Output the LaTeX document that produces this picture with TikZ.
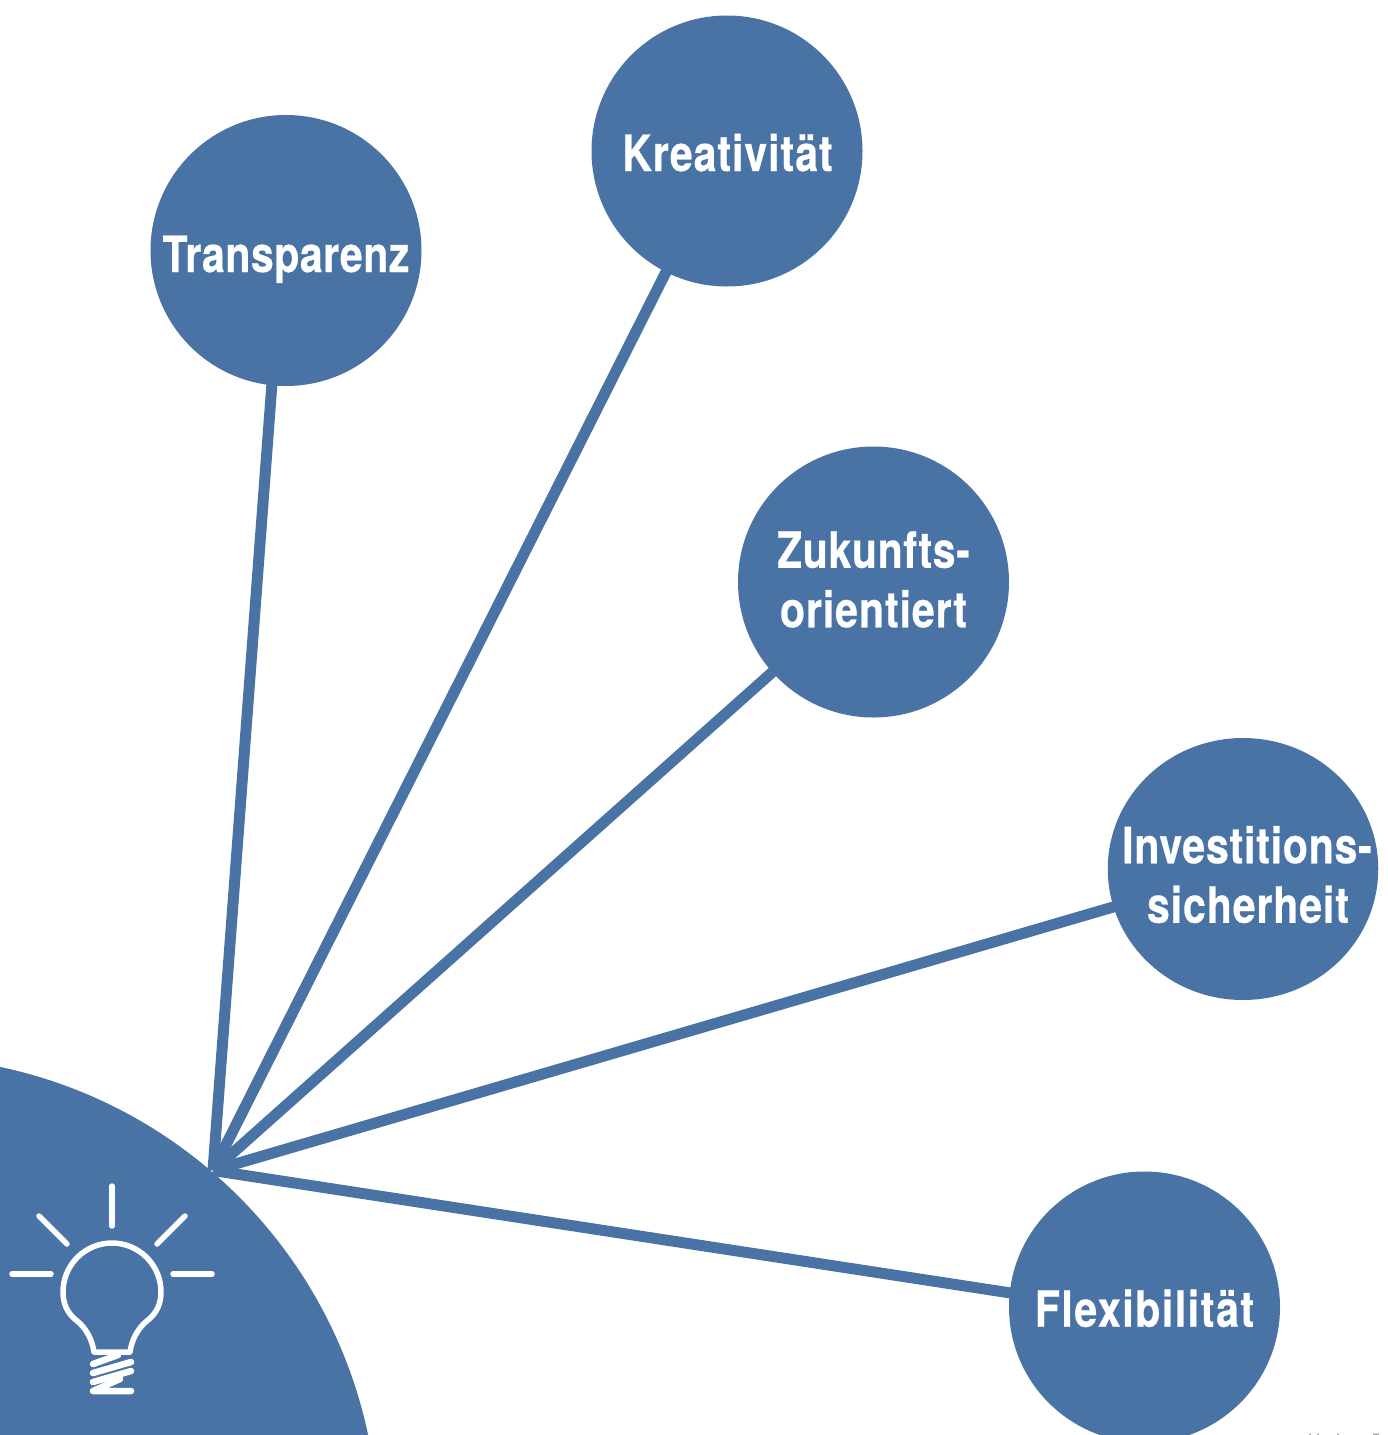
\documentclass[tikz,border=0pt]{standalone}
\usepackage{fontspec}
\usetikzlibrary{shapes.geometric}
\setmainfont{TeX Gyre Heros}[FakeStretch=0.82,LetterSpace=1.6,FakeBold=0.5]
\definecolor{bl}{HTML}{4A73A5}
% #1 horizontal offset (doubled kern), #2 drop of the baseline, #3 letter spacing, #4 text
\newcommand{\lbl}[4]{\makebox[0pt]{\addfontfeatures{LetterSpace=#3}\kern#1pt\raisebox{-#2pt}[0pt][0pt]{#4}}}
\tikzset{
 bub/.style={circle,fill=bl,minimum size=271pt,inner sep=0pt,align=center,text=white,font=\fontsize{50}{59.5}\selectfont\bfseries},
 conn/.style={draw=bl,line width=11pt,shorten >=-3pt},
 wl/.style={draw=white,line width=5.5pt,line cap=round,line join=round},
 ws/.style={wl,line width=6.5pt}
}
\begin{document}
\begin{tikzpicture}[x=1pt,y=-1pt]
\useasboundingbox (0,0) rectangle (1387,1435);
\begin{scope}
\clip (0,0) rectangle (1387,1435);
\fill[bl] (-99,1534) circle (477.4);
\end{scope}
\node[bub] (t) at (286,250.5) {\lbl{0}{21.5}{1.1}{Transparenz}};
\node[bub] (k) at (727,151) {\lbl{1}{20}{1.9}{Kreativität}};
\node[bub] (z) at (873.5,582) {\lbl{0}{15.5}{1.3}{Zukunfts-}\\\lbl{0}{15.5}{1.9}{orientiert}};
\node[bub,ellipse,minimum width=270.5pt,minimum height=262pt] (i) at (1243,869) {\lbl{8}{24}{1.6}{Investitions-}\\\lbl{10}{24}{1.9}{sicherheit}};
\node[bub] (f) at (1144.5,1307) {\lbl{0}{19.7}{3.1}{Flexibilität}};
\coordinate (hub) at (213,1170.5);
\draw[conn] (hub) -- (t.264.3);
\draw[conn] (hub) -- (k);
\draw[conn] (hub) -- (z);
\draw[conn] (hub) -- (i);
\draw[conn] (hub) -- (f.174.3);
% bulb
\draw[wl] (112,1186) -- (112,1226);
\draw[wl] (39,1216) -- (67,1244);
\draw[wl] (185,1216) -- (157,1244);
\draw[wl] (12,1274) -- (51,1274);
\draw[wl] (173,1274) -- (212,1274);
\draw[wl] (94,1352) .. controls (92,1338) and (85,1327) .. (76,1320)
  .. controls (67,1313) and (63,1303) .. (63,1292)
  .. controls (63,1265) and (85,1243) .. (112,1243)
  .. controls (139,1243) and (161,1265) .. (161,1292)
  .. controls (161,1303) and (157,1313) .. (148,1320)
  .. controls (139,1327) and (132,1338) .. (130,1352) -- cycle;
\draw[ws] (93,1364) -- (118,1355);
\draw[ws] (93,1373) -- (131,1362);
\draw[ws] (93,1382) -- (131,1371);
\draw[ws] (131,1391) -- (93,1391) -- (120,1379);
% clipped marks at the lower edge
\fill[gray!70] (1309,1433.5) rectangle (1311,1435) (1317,1433.5) rectangle (1319,1435) (1337,1433.5) rectangle (1339,1435) (1373,1433.5) rectangle (1379,1435);
\end{tikzpicture}
\end{document}
